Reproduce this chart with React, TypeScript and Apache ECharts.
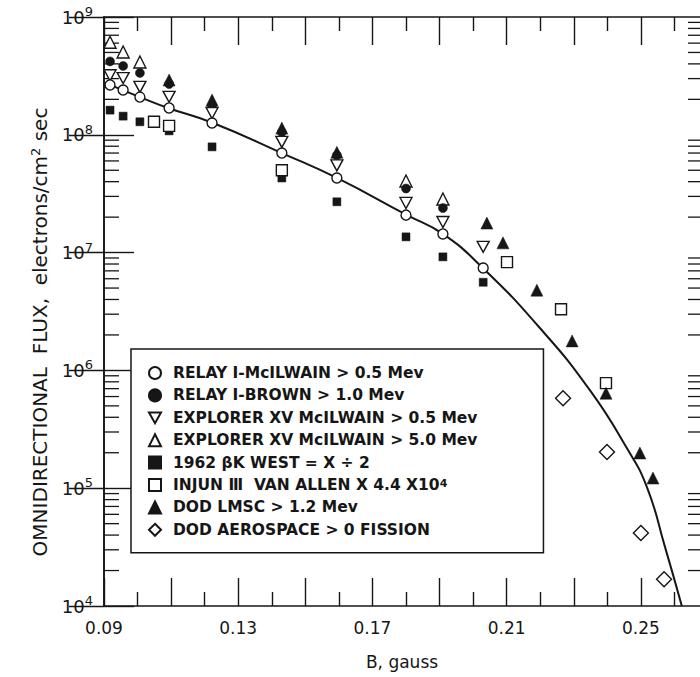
import React, { useEffect, useRef } from "react";
import * as echarts from "echarts";

// ---- series names (legend) ----
const NAME_MCILWAIN = "RELAY Ⅰ-McILWAIN > 0.5 Mev";
const NAME_BROWN = "RELAY Ⅰ-BROWN > 1.0 Mev";
const NAME_EXP05 = "EXPLORER ⅩⅤ McILWAIN > 0.5 Mev";
const NAME_EXP50 = "EXPLORER ⅩⅤ McILWAIN > 5.0 Mev";
const NAME_1962 = "1962 βK WEST = X ÷ 2";
const NAME_INJUN = "INJUN Ⅲ  VAN ALLEN X 4.4 X10⁴";
const NAME_LMSC = "DOD LMSC > 1.2 Mev";
const NAME_AERO = "DOD AEROSPACE > 0 FISSION";

// ---- data: B (gauss) and omnidirectional flux ----
const mcilwainB = [0.0918, 0.0957, 0.1007, 0.1094, 0.1222, 0.143, 0.1594, 0.18, 0.191, 0.203];
const mcilwainFlux = [2.65e8, 2.4e8, 2.09e8, 1.69e8, 1.26e8, 7.0e7, 4.3e7, 2.08e7, 1.44e7, 7.4e6];

const brownB = [0.0918, 0.0957, 0.1007, 0.1094, 0.1222, 0.143, 0.1594, 0.18, 0.191];
const brownFlux = [4.2e8, 3.84e8, 3.35e8, 2.7e8, 1.76e8, 1.05e8, 6.7e7, 3.5e7, 2.39e7];

const exp05B = [0.0918, 0.0957, 0.1007, 0.1094, 0.1222, 0.143, 0.1594, 0.18, 0.191, 0.203];
const exp05Flux = [3.2e8, 3.03e8, 2.55e8, 2.1e8, 1.53e8, 8.7e7, 5.5e7, 2.64e7, 1.82e7, 1.12e7];

const exp50B = [0.0918, 0.0957, 0.1007, 0.18, 0.191];
const exp50Flux = [6.1e8, 5.05e8, 4.15e8, 4.05e7, 2.85e7];

const west1962B = [0.0918, 0.0957, 0.1007, 0.1094, 0.1222, 0.143, 0.1594, 0.18, 0.191, 0.203];
const west1962Flux = [1.62e8, 1.44e8, 1.29e8, 1.08e8, 7.9e7, 4.3e7, 2.7e7, 1.36e7, 9.2e6, 5.6e6];

const injunB = [0.1049, 0.1094, 0.143, 0.2101, 0.2262, 0.2396];
const injunFlux = [1.29e8, 1.19e8, 5.0e7, 8.3e6, 3.3e6, 7.8e5];

const lmscB = [0.1094, 0.1222, 0.143, 0.1594, 0.2041, 0.2089, 0.219, 0.2295, 0.2396, 0.2497, 0.2536];
const lmscFlux = [2.92e8, 1.97e8, 1.14e8, 7.1e7, 1.78e7, 1.21e7, 4.8e6, 1.78e6, 6.4e5, 1.99e5, 1.22e5];

const aeroB = [0.2268, 0.2399, 0.25, 0.2569];
const aeroFlux = [5.8e5, 2.03e5, 4.17e4, 1.69e4];

// fitted curve
const curveB = [0.0918, 0.1007, 0.1091, 0.1225, 0.143, 0.1594, 0.1803, 0.191, 0.2029, 0.2199, 0.2348, 0.2458, 0.2518, 0.2572, 0.2622];
const curveFlux = [2.65e8, 2.09e8, 1.69e8, 1.26e8, 7.0e7, 4.3e7, 2.08e7, 1.44e7, 7.4e6, 2.29e6, 6.8e5, 2.19e5, 1.02e5, 3.16e4, 1.0e4];

// axes
const xStart = 0.09; // B at left edge
const xEnd = 0.27; // B at right edge (frame runs past the picture's right edge)
const xLabelValues = ["0.09", "0.13", "0.17", "0.21", "0.25"];
const yMin = 1e4;
const yMax = 1e9;
const yDecades = [4, 5, 6, 7, 8];
const yMinorMultipliers = [2, 3, 4, 5, 6, 7, 8, 9];

const INK = "#161616";
const FONT = "DejaVu Sans";

const toU = (b: number) => Math.round((b - xStart) * 100 * 1000) / 1000;
const pairs = (bs: number[], fs: number[]) => bs.map((b, i) => [toU(b), fs[i]]);

export default function App() {
  const ref = useRef<HTMLDivElement>(null);

  useEffect(() => {
    if (!ref.current) return;
    const chart = echarts.init(ref.current, undefined, { renderer: "svg" });
    const uMax = toU(xEnd);

    const minorYTicks: number[][] = [];
    yDecades.forEach((d) =>
      yMinorMultipliers.forEach((m) => minorYTicks.push([0, m * Math.pow(10, d)]))
    );

    const open = { color: "#ffffff", borderColor: INK, borderWidth: 1.4, opacity: 1 };
    const filled = { color: INK, borderColor: INK, borderWidth: 0.5, opacity: 1 };

    const xAxisBase = {
      type: "value",
      min: 0,
      max: uMax,
      interval: 2,
      axisLine: { show: true, lineStyle: { color: INK, width: 1.6 } },
      axisTick: { show: true, inside: true, length: 28, lineStyle: { color: INK, width: 1.4 } },
      minorTick: { show: true, splitNumber: 2, length: 14, lineStyle: { color: INK, width: 1.4 } },
      splitLine: { show: false },
      minorSplitLine: { show: false },
    };

    const yAxisBase = {
      type: "log",
      logBase: 10,
      min: yMin,
      max: yMax,
      axisLine: { show: true, lineStyle: { color: INK, width: 1.6 } },
      splitLine: { show: false },
    };

    const option: any = {
      animation: false,
      backgroundColor: "#ffffff",
      grid: { left: 104, top: 17, width: 604, height: 589, containLabel: false },
      xAxis: [
        {
          ...xAxisBase,
          position: "bottom",
          axisLabel: {
            show: true,
            margin: 13,
            fontFamily: FONT,
            fontSize: 17,
            color: INK,
            formatter: (v: number) => {
              const s = (xStart + v / 100).toFixed(2);
              return xLabelValues.indexOf(s) >= 0 ? s : "";
            },
          },
        },
        {
          ...xAxisBase,
          position: "top",
          axisLabel: { show: false },
        },
      ],
      yAxis: [
        {
          ...yAxisBase,
          position: "left",
          axisTick: { show: true, inside: true, length: 30, lineStyle: { color: INK, width: 1.4 } },
          axisLabel: {
            show: true,
            margin: 11,
            color: INK,
            formatter: (v: number) => `{b|10}{s|${Math.round(Math.log10(v))}}`,
            rich: {
              b: { fontFamily: FONT, fontSize: 18, color: INK, lineHeight: 24 },
              s: { fontFamily: FONT, fontSize: 13, color: INK, verticalAlign: "top", lineHeight: 13 },
            },
          },
        },
        {
          ...yAxisBase,
          position: "right",
          axisTick: { show: true, inside: true, length: 35, lineStyle: { color: INK, width: 1.4 } },
          axisLabel: { show: false },
        },
      ],
      legend: {
        show: true,
        orient: "vertical",
        left: 131,
        top: 349,
        padding: [16, 66, 15, 17],
        itemGap: 6.4,
        itemWidth: 12,
        itemHeight: 12,
        borderColor: INK,
        borderWidth: 1.5,
        backgroundColor: "#ffffff",
        selectedMode: false,
        textStyle: {
          fontFamily: FONT,
          fontSize: 15.5,
          fontWeight: "bold",
          color: INK,
          lineHeight: 14,
          padding: [0, 0, 0, 7],
          rich: {
            s: { fontFamily: FONT, fontSize: 11, fontWeight: "bold", color: INK, verticalAlign: "top", lineHeight: 10 },
          },
        },
        formatter: (name: string) => (name === NAME_INJUN ? name.replace("10⁴", "10{s|4}") : name),
        data: [NAME_MCILWAIN, NAME_BROWN, NAME_EXP05, NAME_EXP50, NAME_1962, NAME_INJUN, NAME_LMSC, NAME_AERO],
      },
      series: [
        {
          type: "custom",
          name: "minor-y-ticks",
          silent: true,
          xAxisIndex: 0,
          yAxisIndex: 0,
          data: minorYTicks,
          z: 1,
          renderItem: (params: any, api: any) => {
            const l = api.coord([0, api.value(1)]);
            const r = api.coord([uMax, api.value(1)]);
            return {
              type: "group",
              children: [
                { type: "line", shape: { x1: l[0], y1: l[1], x2: l[0] + 15, y2: l[1] }, style: { stroke: INK, lineWidth: 1.3 } },
                { type: "line", shape: { x1: r[0], y1: r[1], x2: r[0] - 20, y2: r[1] }, style: { stroke: INK, lineWidth: 1.3 } },
              ],
            };
          },
        },
        {
          type: "line",
          name: "fit",
          data: pairs(curveB, curveFlux),
          smooth: 0.5,
          showSymbol: false,
          symbol: "none",
          silent: true,
          lineStyle: { color: INK, width: 2 },
          z: 2,
        },
        { type: "scatter", name: NAME_1962, data: pairs(west1962B, west1962Flux), symbol: "rect", symbolSize: 8, itemStyle: filled, z: 3 },
        { type: "scatter", name: NAME_INJUN, data: pairs(injunB, injunFlux), symbol: "rect", symbolSize: 11, itemStyle: open, z: 3 },
        { type: "scatter", name: NAME_LMSC, data: pairs(lmscB, lmscFlux), symbol: "triangle", symbolSize: 12, itemStyle: filled, z: 4 },
        { type: "scatter", name: NAME_EXP50, data: pairs(exp50B, exp50Flux), symbol: "triangle", symbolSize: 12, itemStyle: open, z: 4 },
        { type: "scatter", name: NAME_BROWN, data: pairs(brownB, brownFlux), symbol: "circle", symbolSize: 9, itemStyle: filled, z: 4 },
        { type: "scatter", name: NAME_EXP05, data: pairs(exp05B, exp05Flux), symbol: "path://M0,0L10,0L5,9Z", symbolSize: [12, 11], itemStyle: open, z: 4 },
        { type: "scatter", name: NAME_MCILWAIN, data: pairs(mcilwainB, mcilwainFlux), symbol: "circle", symbolSize: 10, itemStyle: open, z: 5 },
        { type: "scatter", name: NAME_AERO, data: pairs(aeroB, aeroFlux), symbol: "diamond", symbolSize: 15, itemStyle: open, z: 4 },
      ],
      graphic: [
        {
          type: "text",
          x: 40,
          y: 332,
          rotation: Math.PI / 2,
          style: {
            text: "{a|OMNIDIRECTIONAL  FLUX,  electrons/cm}{s|2}{a| sec}",
            align: "center",
            verticalAlign: "middle",
            rich: {
              a: { fontFamily: FONT, fontSize: 20, fill: INK, lineHeight: 22 },
              s: { fontFamily: FONT, fontSize: 13, fill: INK, verticalAlign: "top", lineHeight: 13 },
            },
          },
        },
        {
          type: "text",
          x: 402,
          y: 662,
          style: {
            text: "B, gauss",
            align: "center",
            verticalAlign: "middle",
            fontFamily: FONT,
            fontSize: 17,
            fill: INK,
          },
        },
      ],
    };

    chart.setOption(option);
    return () => chart.dispose();
  }, []);

  return (
    <div style={{ position: "absolute", left: 0, top: 0, width: 700, height: 677, overflow: "hidden", background: "#fff" }}>
      <div ref={ref} style={{ width: 712, height: 677 }} />
    </div>
  );
}
